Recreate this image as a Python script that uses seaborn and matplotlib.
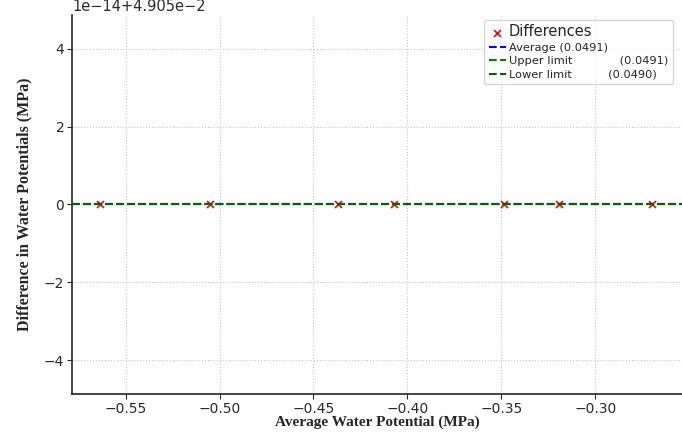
import matplotlib
matplotlib.use("Agg")
import matplotlib.pyplot as plt
import numpy as np
import pandas as pd
import seaborn as sns

# data
avg_potential = [-0.5638, -0.5049, -0.4367, -0.4074, -0.3486, -0.3191, -0.2700]
difference = [0.04905, 0.04905, 0.04905, 0.04905, 0.04905, 0.04905, 0.04905]
line_values = [0.04905, 0.04905, 0.04905]
line_names = ["Average", "Upper limit", "Lower limit"]
line_labels = ["(0.0491)", "(0.0491)", "(0.0490)"]


def main() -> None:
    sns.set_style("ticks")
    df = pd.DataFrame({"avg": avg_potential, "diff": difference})

    fig = plt.figure(figsize=(6.82, 4.33), dpi=100)
    ax = fig.add_axes([72 / 682, 39 / 433, 610 / 682, 379 / 433])

    sns.scatterplot(
        data=df, x="avg", y="diff", marker="x", color="red", s=25,
        linewidth=1.2, ax=ax, label="Differences", zorder=2,
    )

    colors = ["blue", "green", "darkgreen"]
    pads = [" ", "             ", "          "]
    for val, name, lab, col, pad in zip(line_values, line_names, line_labels, colors, pads):
        ax.axhline(val, color=col, linestyle="--", linewidth=1.5,
                   label=f"{name}{pad}{lab}", zorder=3)

    mid = np.mean(difference)
    ax.set_ylim(mid - 4.87e-14, mid + 4.87e-14)
    ax.set_xlim(-0.5785, -0.2539)
    ax.set_xticks([-0.55, -0.50, -0.45, -0.40, -0.35, -0.30])
    ax.grid(True, linestyle=":", color="#c8c8c8", linewidth=0.8)
    ax.tick_params(labelsize=10, colors="#2a2a2a", pad=2)
    ax.yaxis.get_offset_text().set_fontsize(10.5)

    sns.despine(ax=ax, right=True, top=True)
    ax.spines["left"].set_linewidth(1.2)
    ax.spines["bottom"].set_linewidth(1.2)

    ax.set_xlabel("Average Water Potential (MPa)", family="Liberation Serif",
                  fontweight="bold", fontsize=11, labelpad=0)
    ax.set_ylabel("Difference in Water Potentials (MPa)", family="Liberation Serif",
                  fontweight="bold", fontsize=11.5, labelpad=8)

    leg = ax.legend(loc="upper right", bbox_to_anchor=(0.985, 0.987), fontsize=8.2,
                    frameon=True, handlelength=1.5, labelspacing=0.3,
                    borderpad=0.4, handletextpad=0.3, borderaxespad=0)
    leg.get_texts()[0].set_fontsize(10.5)
    leg.get_frame().set_edgecolor("#cccccc")

    fig.savefig("out.png", dpi=100)


if __name__ == "__main__":
    main()
